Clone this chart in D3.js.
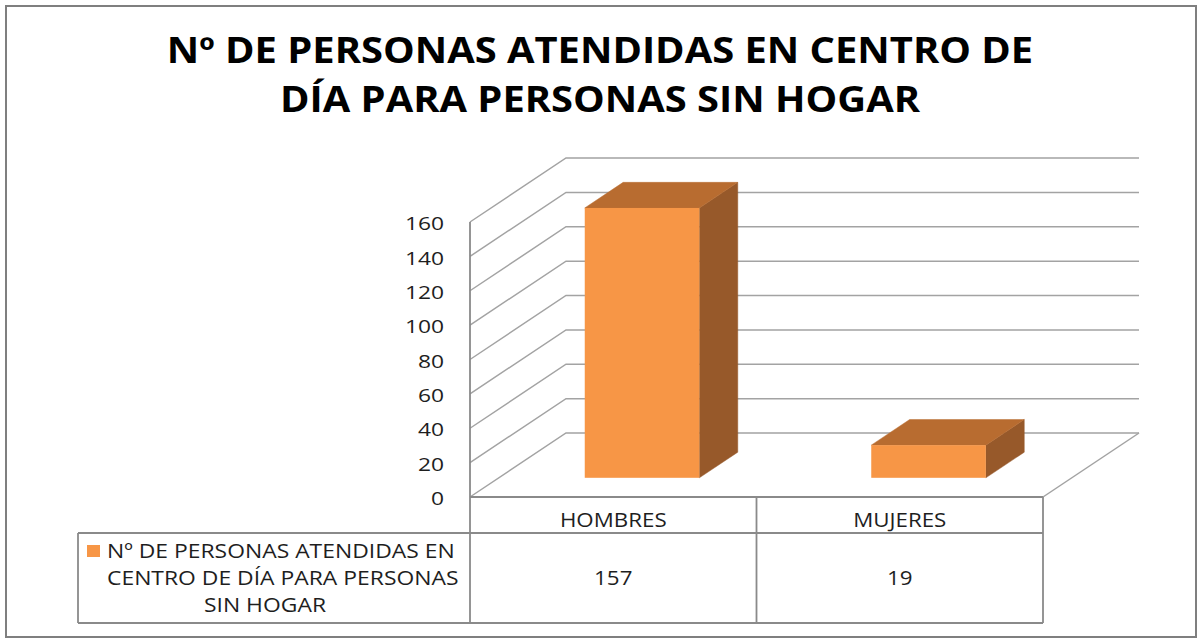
<!DOCTYPE html>
<html><head><meta charset="utf-8">
<script src="https://cdn.jsdelivr.net/npm/d3@7"></script>
<style>html,body{margin:0;padding:0;background:#fff;} svg{display:block;}</style>
</head><body>
<svg id="c" width="1198" height="639"></svg>
<script>
const titleLines = ["Nº DE PERSONAS ATENDIDAS EN CENTRO DE", "DÍA PARA PERSONAS SIN HOGAR"];
const categories = ["HOMBRES", "MUJERES"];
const values = [157, 19];
const legendLines = ["Nº DE PERSONAS ATENDIDAS EN", "CENTRO DE DÍA PARA PERSONAS", "SIN HOGAR"];
const yTicks = [0, 20, 40, 60, 80, 100, 120, 140, 160];

const svg = d3.select("#c");
const FONT = "'Open Sans', sans-serif";
const SX = 1.145;
const GRID = "#a3a3a3", TABLE = "#8a8a8a", TXT = "#1e1e1e";
const FRONT = "#f79646", TOP = "#b86c30", SIDE = "#97592a";

function stext(g, str, x, yy, opts) {
  const o = Object.assign({anchor: "middle", size: 20, weight: 400, sx: SX, fill: TXT, base: "alphabetic"}, opts || {});
  return g.append("text")
    .attr("transform", `translate(${x},${yy}) scale(${o.sx},1)`)
    .attr("text-anchor", o.anchor)
    .attr("dominant-baseline", o.base)
    .attr("font-family", FONT).attr("font-size", o.size).attr("font-weight", o.weight)
    .attr("fill", o.fill).text(str);
}

// frame
svg.append("rect").attr("x", 6).attr("y", 6).attr("width", 1190).attr("height", 631)
  .attr("fill", "#fff").attr("stroke", "#7f7f7f").attr("stroke-width", 2);

// title
titleLines.forEach((t, i) => stext(svg, t, 600, 63 + i * 49, {size: 35, weight: 700, sx: 1.14, fill: "#000"}));

// geometry
const plot = {left: 470, right: 1043, front: 497, top: 222};
const depth = {dx: 96, dy: -64};
const x = d3.scaleBand().domain(categories).range([plot.left, plot.right]).paddingInner(0.6).paddingOuter(0.3);
const y = d3.scaleLinear().domain([0, 160]).range([plot.front, plot.top]);
const colW = (plot.right - plot.left) / categories.length;

// walls/grid
const grid = svg.append("g").attr("fill", "none").attr("stroke", GRID).attr("stroke-width", 1.5);
yTicks.forEach(t => {
  const yy = y(t);
  grid.append("path").attr("d", d3.line()([[plot.left, yy], [plot.left + depth.dx, yy + depth.dy], [plot.right + depth.dx, yy + depth.dy]]));
});
grid.append("path").attr("d", d3.line()([[plot.right, y(0)], [plot.right + depth.dx, y(0) + depth.dy]]));

// tick labels
yTicks.forEach(t => stext(svg, String(t), 444, y(t) + 1, {anchor: "end", size: 19, sx: 1.2, base: "central"}));

// bars
const f0 = 0.3, bd = 0.4;
const bars = svg.append("g");
categories.forEach((c, i) => {
  const x0 = x(c) + f0 * depth.dx, w = x.bandwidth();
  const yT = y(values[i]) + f0 * depth.dy, yB = y(0) + f0 * depth.dy;
  const ddx = bd * depth.dx, ddy = bd * depth.dy;
  bars.append("path").attr("fill", SIDE).attr("stroke", SIDE).attr("stroke-width", 0.5)
    .attr("d", d3.line()([[x0 + w, yT], [x0 + w + ddx, yT + ddy], [x0 + w + ddx, yB + ddy], [x0 + w, yB]]) + "Z");
  bars.append("path").attr("fill", TOP).attr("stroke", TOP).attr("stroke-width", 0.5)
    .attr("d", d3.line()([[x0, yT], [x0 + w, yT], [x0 + w + ddx, yT + ddy], [x0 + ddx, yT + ddy]]) + "Z");
  bars.append("rect").attr("x", x0).attr("y", yT).attr("width", w).attr("height", yB - yT).attr("fill", FRONT);
});

// data table
const rowH = 533, rowB = 623, legL = 78;
const tb = svg.append("g").attr("fill", "none").attr("stroke", TABLE).attr("stroke-width", 1.8);
tb.append("path").attr("d", d3.line()([[plot.left, plot.front], [plot.right, plot.front]]));
tb.append("path").attr("d", d3.line()([[legL, rowH], [plot.right, rowH]]));
tb.append("path").attr("d", d3.line()([[legL, rowB], [plot.right, rowB]]));
tb.append("path").attr("d", d3.line()([[legL, rowH], [legL, rowB]]));
tb.append("path").attr("d", d3.line()([[plot.left, plot.top], [plot.left, rowB]]));
categories.forEach((c, i) => {
  const xr = plot.left + colW * (i + 1);
  tb.append("path").attr("d", d3.line()([[xr, plot.front], [xr, rowB]]));
});
categories.forEach((c, i) => {
  const cx = plot.left + colW * (i + 0.5);
  stext(svg, c, cx, 527, {size: 19.5});
  stext(svg, String(values[i]), cx, 585, {size: 19.5});
});

// legend
svg.append("rect").attr("x", 87).attr("y", 545).attr("width", 13).attr("height", 12).attr("fill", FRONT);
stext(svg, legendLines[0], 107, 558, {anchor: "start", size: 20});
stext(svg, legendLines[1], 107, 585, {anchor: "start", size: 20});
stext(svg, legendLines[2], 265, 612, {size: 20});
</script>
</body></html>
